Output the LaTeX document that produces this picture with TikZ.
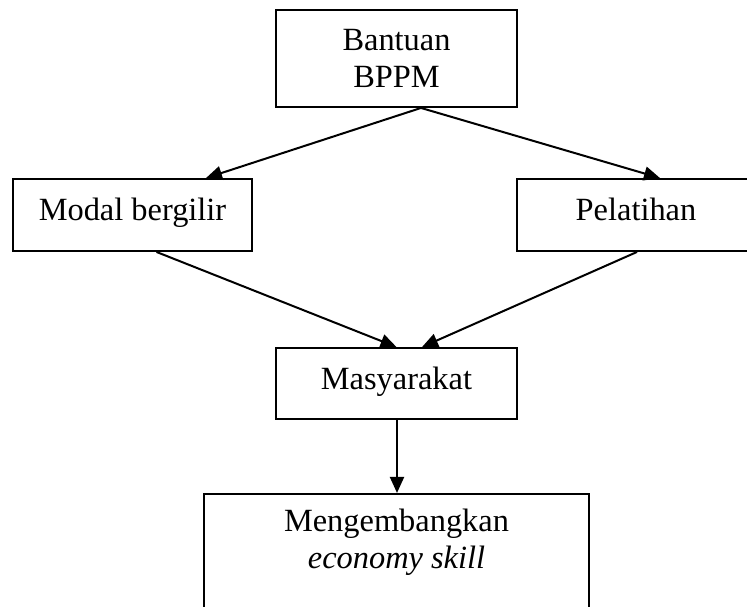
\documentclass[tikz,border=0pt]{standalone}
\usepackage{fontspec}
\setmainfont{Liberation Serif}
\usetikzlibrary{arrows.meta, positioning}
\tikzset{
  kotakDasar/.style={
    draw=black, line width=1.9pt, rectangle, inner sep=0pt,
    align=center, font=\fontsize{32.4}{37}\selectfont, text=black,
    fill=white
  },
  kotakSatu/.style={kotakDasar, text height=22pt, text depth=11pt},
  panah/.style={-{Triangle[length=16pt, width=14pt]}, line width=2pt},
}

\begin{document}
\begin{tikzpicture}[x=1pt, y=-1pt, node distance=73pt]
    \useasboundingbox (0,0) rectangle (747,607);
    \clip (0,0) rectangle (747,607);

    % Atas
    \node[kotakDasar, minimum width=241pt, minimum height=97pt] (bantuan) at (396.5,58.5) {Bantuan\\BPPM};

    % Tengah
    \node[kotakSatu, minimum width=239pt, minimum height=72pt] (modal) at (132.5,215) {Modal bergilir};
    \node[kotakSatu, minimum width=238pt, minimum height=72pt] (pelatihan) at (636,215) {Pelatihan};

    % Bawah
    \node[kotakSatu, minimum width=241pt, minimum height=71pt] (masyarakat) at (396.5,383.5) {Masyarakat};
    \node[kotakDasar, below=of masyarakat, minimum width=385pt, minimum height=133pt,
          text height=59pt, text depth=42pt] (hasil) {Mengembangkan\\\textit{economy skill}};

    \draw[panah] ([xshift=24.5pt]bantuan.south) -- ([xshift=73.5pt]modal.north);
    \draw[panah] ([xshift=24.5pt]bantuan.south) -- ([xshift=24pt]pelatihan.north);
    \draw[panah] ([xshift=24pt]modal.south) -- (masyarakat.north);
    \draw[panah] ([xshift=1pt]pelatihan.south) -- ([xshift=25.5pt]masyarakat.north);
    \draw[panah] ([xshift=0.5pt]masyarakat.south) -- ([xshift=0.5pt]hasil.north);
  \end{tikzpicture}
\end{document}
